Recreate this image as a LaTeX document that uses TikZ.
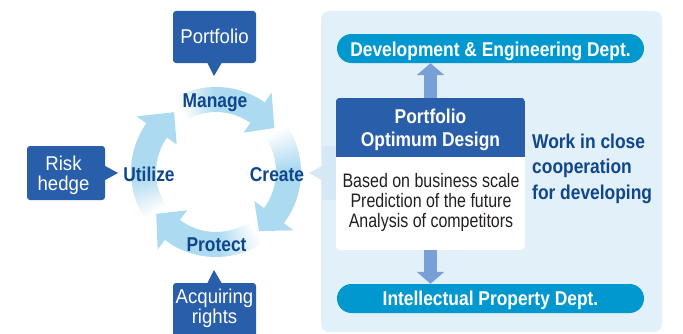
\documentclass[tikz,border=0pt]{standalone}
\usepackage{fontspec}
\setmainfont{Liberation Sans}[FakeStretch=0.87]
\newfontfamily\wfont{Liberation Sans}[FakeStretch=0.93]
\newfontfamily\bodyfont{Liberation Sans}[FakeStretch=0.82]
\usetikzlibrary{arrows.meta}
\definecolor{boxblue}{RGB}{41,94,170}
\definecolor{textblue}{RGB}{16,70,140}
\definecolor{pillblue}{RGB}{0,152,206}
\definecolor{panelbg}{RGB}{226,240,249}
\definecolor{faintbg}{RGB}{212,232,246}
\definecolor{arrowblue}{RGB}{122,158,214}
\definecolor{arcblue}{RGB}{172,218,240}
\definecolor{bodytext}{RGB}{35,31,32}
\newcommand\ringarrow[3]{%
  \foreach \i in {0,...,29}{%
    \pgfmathsetmacro\aa{#1-(#1-(#2))*\i/30}%
    \pgfmathsetmacro\ab{#1-(#1-(#2))*(\i+1)/30-0.4}%
    \pgfmathtruncatemacro\pc{min(100,\i*100/13)}%
    \fill[arcblue!\pc!white] (\aa:60) arc[start angle=\aa,end angle=\ab,radius=60] -- (\ab:85) arc[start angle=\ab,end angle=\aa,radius=85] -- cycle;
  }%
  \fill[arcblue] (#2:48) -- (#2:97) -- (#3:73) -- cycle;
}
\tikzset{
  bigfont/.style={font=\bfseries\fontsize{20}{24}\selectfont},
  lbl/.style={bigfont, text=textblue, inner sep=0pt, anchor=base},
  wlbl/.style={font=\wfont\fontsize{20}{24}\selectfont, text=white, inner sep=0pt, anchor=base},
  darkbox/.style={fill=boxblue, rounded corners=3pt, inner sep=0pt},
  pill/.style={fill=pillblue, rounded corners=14.5pt, minimum width=307pt, minimum height=29pt, inner sep=0pt},
  pilltext/.style={bigfont, text=white, inner sep=0pt, anchor=base},
  bodyline/.style={font=\bodyfont\fontsize{19.5}{23}\selectfont, text=bodytext, inner sep=0pt, anchor=base},
  bigarrow/.style={draw=arrowblue, line width=13pt, -{Triangle[width=27pt,length=12pt]}}
}
\begin{document}
\begin{tikzpicture}[x=1pt,y=1pt]
\useasboundingbox (0,0) rectangle (683,333);
\clip (0,0) rectangle (683,333);
% right panel
\fill[panelbg, rounded corners=8pt] (321,1) rectangle (662,322);
% faint callout behind design box
\node[fill=faintbg, minimum width=20pt, minimum height=54pt, inner sep=0pt] (faint) at (332,160) {};
\fill[faintbg] (faint.west |- 0,167) -- (309,160) -- (faint.west |- 0,153) -- cycle;
% cycle ring
\begin{scope}[shift={(216,161)}]
  \ringarrow{120}{55}{37}
  \ringarrow{35}{-37}{-54}
  \ringarrow{-55}{-127}{-145}
  \ringarrow{-145}{-215}{-235}
\end{scope}
% cycle labels
\node[lbl] (manage) at (215,226) {Manage};
\node[lbl] (utilize) at (149,152) {Utilize};
\node[lbl] (create) at (277,152) {Create};
\node[lbl] (protect) at (216.5,82) {Protect};
% callout boxes
\node[darkbox, minimum width=83pt, minimum height=52pt] (pf) at (214.5,296) {};
\fill[boxblue] ([xshift=-7pt]pf.south) -- (214,257) -- ([xshift=7pt]pf.south) -- cycle;
\node[wlbl] (pftext) at (214.5,290) {Portfolio};
\node[darkbox, minimum width=78pt, minimum height=54pt] (risk) at (66,160) {};
\fill[boxblue] ([yshift=7pt]risk.east) -- (118,160) -- ([yshift=-7pt]risk.east) -- cycle;
\node[wlbl] (risktext) at (63.5,163) {Risk};
\node[wlbl] (hedgetext) at (63.5,143) {hedge};
\node[darkbox, minimum width=83pt, minimum height=60pt] (acq) at (214.5,20) {};
\fill[boxblue] ([xshift=-7pt]acq.north) -- (214,63) -- ([xshift=7pt]acq.north) -- cycle;
\node[wlbl] (acqtext) at (214.5,30) {Acquiring};
\node[wlbl] (rightstext) at (214.5,10) {rights};
% pills
\node[pill] (dev) at (490.5,284.5) {};
\node[pilltext] at (490.5,277) {Development \& Engineering Dept.};
\node[pill] (ip) at (490.5,34.5) {};
\node[pilltext] at (490.5,28) {Intellectual Property Dept.};
% design box
\node[fill=white, rounded corners=4pt, minimum width=189pt, minimum height=152pt, inner sep=0pt] (design) at (430.5,159) {};
\begin{scope}
  \clip[rounded corners=4pt] (design.south west) rectangle (design.north east);
  \fill[boxblue] (336,176) rectangle (525,235);
\end{scope}
\node[pilltext] at (430.5,210) {Portfolio};
\node[pilltext] at (430.5,187) {Optimum Design};
\node[bodyline] at (431,146) {Based on business scale};
\node[bodyline] at (431,126) {Prediction of the future};
\node[bodyline] at (431,106) {Analysis of competitors};
% connectors
\draw[bigarrow] (430.5,235) -- (dev.south -| 430.5,0);
\draw[bigarrow] (430.5,83) -- (ip.north -| 430.5,0);
% side text
\node[lbl, anchor=base west] at (532,185) {Work in close};
\node[lbl, anchor=base west] at (532,160) {cooperation};
\node[lbl, anchor=base west] at (532,134) {for developing};
\end{tikzpicture}
\end{document}
